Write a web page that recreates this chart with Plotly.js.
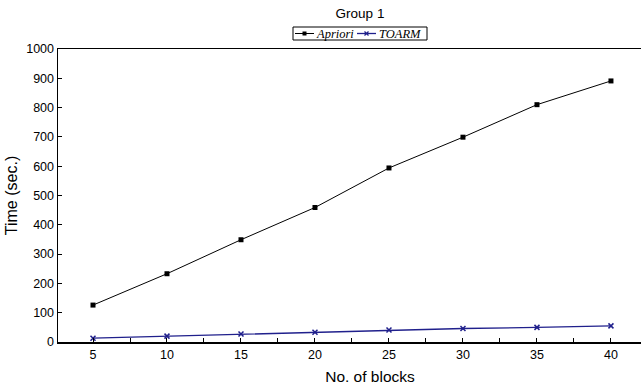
<!DOCTYPE html>
<html>
<head>
<meta charset="utf-8">
<script src="https://cdn.plot.ly/plotly-3.0.1.min.js"></script>
<style>html,body{margin:0;padding:0;background:#fff;overflow:hidden}</style>
</head>
<body>
<div id="chart" style="width:682px;height:389px"></div>
<script>
const blocks = [5, 10, 15, 20, 25, 30, 35, 40];
const apriori = [126, 233, 349, 459, 594, 699, 810, 891];
const toarm = [13, 20, 27, 33, 41, 46, 50, 55];
const seriesNames = ['Apriori', 'TOARM'];
const seriesColors = ['#000000', '#20208c'];

const W = 682, H = 389, ML = 58, MT = 49, MB = 47;
const PW = W - ML, PH = H - MT - MB;
// pixel -> paper helpers for the legend box (layout only)
const px = v => (v - ML) / PW;
const py = v => (H - MB - v) / PH;

const traces = [
  {x: blocks, y: apriori, name: seriesNames[0], type: 'scatter', mode: 'lines+markers',
   line: {color: seriesColors[0], width: 1}, marker: {symbol: 'square', size: 5, color: seriesColors[0]}},
  {x: blocks, y: toarm, name: seriesNames[1], type: 'scatter', mode: 'lines+markers',
   line: {color: seriesColors[1], width: 1.3}, marker: {symbol: 'x-thin', size: 5, color: seriesColors[1], line: {color: seriesColors[1], width: 1.5}}}
];

// custom compact legend
const ly = 33.5;
const shapes = [
  {type: 'rect', xref: 'paper', yref: 'paper', x0: px(293), x1: px(427), y0: py(27), y1: py(40), line: {color: '#000', width: 1}, fillcolor: '#fff'},
  {type: 'line', xref: 'paper', yref: 'paper', x0: px(295), x1: px(314), y0: py(ly), y1: py(ly), line: {color: seriesColors[0], width: 1}},
  {type: 'rect', xref: 'paper', yref: 'paper', x0: px(302.5), x1: px(306.5), y0: py(ly - 2), y1: py(ly + 2), line: {width: 0}, fillcolor: seriesColors[0]},
  {type: 'line', xref: 'paper', yref: 'paper', x0: px(357), x1: px(376), y0: py(ly), y1: py(ly), line: {color: seriesColors[1], width: 1.3}},
  {type: 'line', xref: 'paper', yref: 'paper', x0: px(364.5), x1: px(368.5), y0: py(ly - 2), y1: py(ly + 2), line: {color: seriesColors[1], width: 1.3}},
  {type: 'line', xref: 'paper', yref: 'paper', x0: px(364.5), x1: px(368.5), y0: py(ly + 2), y1: py(ly - 2), line: {color: seriesColors[1], width: 1.3}}
];
const legFont = {family: 'Liberation Serif, Times New Roman, serif', size: 12.5, color: '#000'};
const annotations = [
  {xref: 'paper', yref: 'paper', x: px(315), y: py(ly), xanchor: 'left', yanchor: 'middle', text: '<i>' + seriesNames[0] + '</i>', showarrow: false, font: legFont, borderpad: 0},
  {xref: 'paper', yref: 'paper', x: px(378), y: py(ly), xanchor: 'left', yanchor: 'middle', text: '<i>' + seriesNames[1] + '</i>', showarrow: false, font: legFont, borderpad: 0}
];

const layout = {
  width: W, height: H,
  margin: {l: ML, r: 0, t: MT, b: MB},
  paper_bgcolor: '#fff', plot_bgcolor: '#fff',
  font: {family: 'Liberation Sans, Arial, sans-serif', size: 12.5, color: '#000'},
  title: {text: 'Group 1', x: 360/W, xanchor: 'center', xref: 'container', y: 1 - 13/H, yref: 'container', yanchor: 'middle', font: {size: 13.5, color: '#000'}},
  showlegend: false,
  shapes: shapes,
  annotations: annotations,
  xaxis: {
    range: [2.635, 44.8], tickvals: blocks, ticktext: blocks.map(String),
    ticks: 'inside', ticklen: 4, tickcolor: '#000', showgrid: false, zeroline: false,
    showline: true, linecolor: '#000', linewidth: 1.5, mirror: true,
    minor: {dtick: 2.5, tick0: 0, ticks: 'inside', ticklen: 4, tickcolor: '#000'},
    tickfont: {size: 12.5}, title: {text: 'No. of blocks', font: {size: 15.5}, standoff: 10}
  },
  yaxis: {
    range: [0, 1000], dtick: 100, ticks: 'inside', ticklen: 4, tickcolor: '#000',
    showgrid: false, zeroline: false, showline: true, linecolor: '#000', linewidth: 1.5,
    tickfont: {size: 12.5}, ticklabelstandoff: 0,
    title: {text: 'Time (sec.)', font: {size: 16}, standoff: 4}
  }
};

Plotly.newPlot('chart', traces, layout, {displayModeBar: false, staticPlot: true});
</script>
</body>
</html>
